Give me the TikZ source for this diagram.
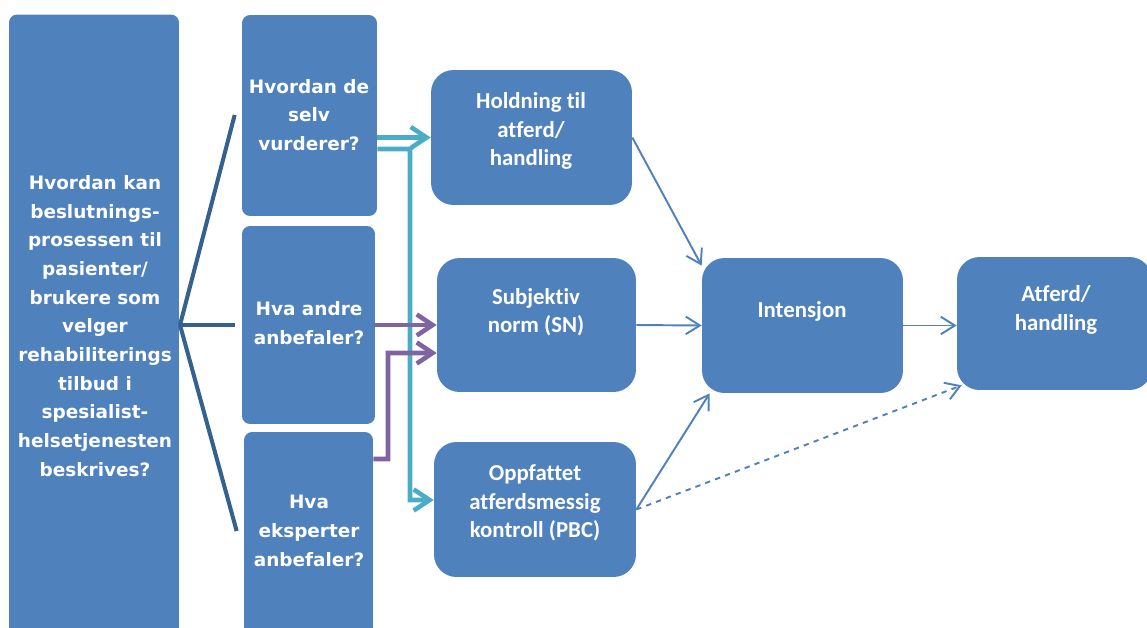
\documentclass[tikz,border=0pt]{standalone}
\usepackage{fontspec}
\usetikzlibrary{arrows.meta}
\newfontfamily\qfont{DejaVu Sans}
\newfontfamily\mfont[Ligatures=NoCommon]{Carlito}
\definecolor{boxblue}{HTML}{4F81BD}
\definecolor{forkblue}{HTML}{35618F}
\definecolor{tealline}{HTML}{4BACC6}
\definecolor{purpleline}{HTML}{8064A2}

\begin{document}
\begin{tikzpicture}[x=0.02cm, y=-0.02cm,
    qbox/.style={fill=boxblue, rounded corners=0.16cm, inner sep=0pt},
    mbox/.style={fill=boxblue, rounded corners=0.45cm, inner sep=0pt},
    qtext/.style={text=white, align=center, font=\qfont\bfseries\fontsize{10.5pt}{16.3pt}\selectfont},
    mtext/.style={text=white, align=center, font=\mfont\bfseries\fontsize{13pt}{16.2pt}\selectfont},
    fork/.style={draw=forkblue, line width=2.3pt},
    tealarrow/.style={draw=tealline, line width=2.6pt, -{Straight Barb[length=9pt, width=12pt]}},
    purplearrow/.style={draw=purpleline, line width=2.6pt, -{Straight Barb[length=9pt, width=12pt]}},
    flow/.style={draw=boxblue, line width=1.1pt, -{Straight Barb[length=8pt, width=10pt]}}]
    \useasboundingbox (0,0) rectangle (1147,627);

    % Question boxes
    \node[qbox, minimum width=3.4cm, minimum height=12.7cm] (ask) at (94,332) {};
    \node[qbox, minimum width=2.7cm, minimum height=4.02cm] (q1) at (309.5,115.5) {};
    \node[qbox, minimum width=2.66cm, minimum height=3.96cm] (q2) at (308.5,325) {};
    \node[qbox, minimum width=2.58cm, minimum height=4.16cm] (q3) at (308.5,536) {};

    % Model boxes
    \node[mbox, minimum width=4.02cm, minimum height=2.7cm] (hold) at (531.5,137.5) {};
    \node[mbox, minimum width=3.98cm, minimum height=2.68cm] (sn) at (536.5,325) {};
    \node[mbox, minimum width=4.04cm, minimum height=2.7cm] (pbc) at (535,509.5) {};
    \node[mbox, minimum width=4.02cm, minimum height=2.7cm] (int) at (802.5,325.5) {};
    \node[mbox, minimum width=3.9cm, minimum height=2.66cm] (atf) at (1054.5,323.5) {};

    % Texts
    \node[qtext] (asktxt) at (95,326) {Hvordan kan\\beslutnings-\\prosessen til\\pasienter/\\brukere som\\velger\\rehabiliterings\\tilbud i\\spesialist-\\helsetjenesten\\beskrives?};
    \node[qtext] (q1txt) at (309,115) {Hvordan de\\selv\\vurderer?};
    \node[qtext] (q2txt) at (309,323) {Hva andre\\anbefaler?};
    \node[qtext] (q3txt) at (309,531) {Hva\\eksperter\\anbefaler?};
    \node[mtext] (holdtxt) at (531,131) {Holdning til\\atferd/\\handling};
    \node[mtext] (sntxt) at (536,312) {Subjektiv\\norm (SN)};
    \node[mtext] (pbctxt) at (535,503) {Oppfattet\\atferdsmessig\\kontroll (PBC)};
    \node[mtext] (inttxt) at (802,311) {Intensjon};
    \node[mtext] (atftxt) at (1056,310) {Atferd/\\handling};

    % Fork from the main question
    \coordinate (split) at (180,325);
    \draw[fork] (split) -- ([xshift=-0.14cm,yshift=0.01cm]q1.west);
    \draw[fork] (split) -- ([xshift=-0.14cm]q2.west);
    \draw[fork] (split) -- ([xshift=-0.14cm,yshift=0.1cm]q3.west);

    % Teal links
    \coordinate (tbus) at (410,149);
    \draw[tealarrow] (q1.east |- hold.west) -- (hold.west);
    \draw[tealarrow] ([yshift=-0.67cm]q1.east) -- (tbus) |- ([yshift=0.19cm]pbc.west);

    % Purple links
    \coordinate (pbus) at (388,459);
    \draw[purplearrow] (q2.east) -- (sn.west);
    \draw[purplearrow] ([yshift=1.54cm]q3.east) -- (pbus) |- ([yshift=-0.56cm]sn.west);

    % Model arrows
    \draw[flow] (hold.east) -- ([yshift=-0.16cm]int.north west);
    \draw[flow] (sn.east) -- (int.west);
    \draw[flow] (pbc.east) -- ([xshift=0.16cm]int.south west);
    \draw[flow] (int.east) -- (int.east -| atf.west);
    \draw[flow, dashed] (pbc.east) -- ([shift={(0.1cm,0.1cm)}]atf.south west);

\end{tikzpicture}
\end{document}
